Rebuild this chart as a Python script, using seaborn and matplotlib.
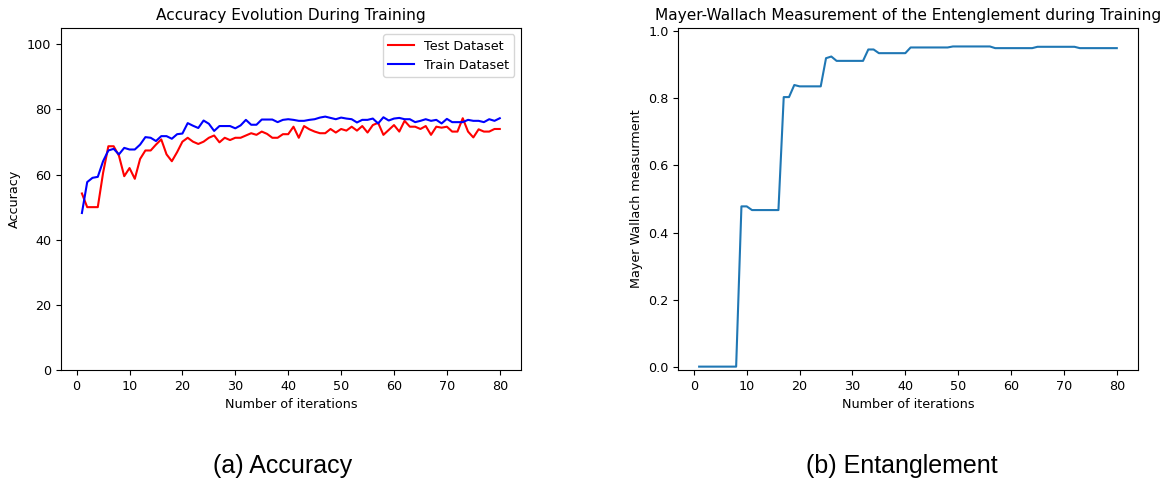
import numpy as np
import pandas as pd
import matplotlib
matplotlib.use('Agg')
import matplotlib.pyplot as plt
import seaborn as sns

# accuracy values, one per iteration (1..80)
iterations = list(range(1, 81))

test_acc = [
    54.2, 50.0, 50.0, 50.0, 60.5, 68.7, 68.7, 65.8, 59.5, 62.0,
    58.7, 64.8, 67.4, 67.4, 69.2, 70.8, 66.2, 64.1, 66.9, 70.1,
    71.3, 70.1, 69.4, 70.1, 71.3, 72.0, 69.9, 71.3, 70.6, 71.3,
    71.3, 72.0, 72.7, 72.2, 73.2, 72.5, 71.3, 71.3, 72.4, 72.4,
    74.7, 71.3, 74.9, 73.9, 73.2, 72.7, 72.7, 74.0, 72.9, 74.0,
    73.5, 74.7, 73.5, 74.9, 72.9, 75.2, 75.9, 72.2, 73.7, 75.2,
    73.2, 76.5, 74.7, 74.7, 74.0, 74.9, 72.2, 74.7, 74.4, 74.7,
    73.2, 73.2, 77.3, 73.2, 71.4, 73.9, 73.2, 73.2, 74.0, 74.0,
]

train_acc = [
    48.2, 57.7, 59.0, 59.3, 64.1, 67.4, 67.9, 66.2, 68.2, 67.7,
    67.7, 69.2, 71.5, 71.3, 70.3, 71.8, 71.8, 71.0, 72.4, 72.6,
    75.8, 75.0, 74.3, 76.6, 75.6, 73.4, 74.9, 74.9, 74.9, 74.2,
    75.1, 76.8, 75.3, 75.3, 76.9, 76.9, 76.9, 76.1, 76.8, 77.0,
    76.8, 76.5, 76.5, 76.8, 77.0, 77.5, 77.8, 77.4, 77.0, 77.5,
    77.2, 77.0, 76.0, 76.8, 76.8, 77.2, 75.7, 77.6, 76.6, 77.2,
    77.4, 77.0, 77.0, 76.1, 76.5, 77.0, 76.5, 76.8, 75.7, 77.1,
    76.1, 76.1, 76.1, 76.8, 76.5, 76.5, 76.1, 77.0, 76.5, 77.3,
]

# Mayer-Wallach entanglement measure per iteration
mw_measure = [
    0.000, 0.000, 0.000, 0.000, 0.000, 0.000, 0.000, 0.000, 0.478, 0.478,
    0.467, 0.467, 0.467, 0.467, 0.467, 0.467, 0.804, 0.804, 0.840, 0.836,
    0.836, 0.836, 0.836, 0.836, 0.920, 0.925, 0.912, 0.912, 0.912, 0.912,
    0.912, 0.912, 0.946, 0.946, 0.935, 0.935, 0.935, 0.935, 0.935, 0.935,
    0.952, 0.952, 0.952, 0.952, 0.952, 0.952, 0.952, 0.952, 0.955, 0.955,
    0.955, 0.955, 0.955, 0.955, 0.955, 0.955, 0.950, 0.950, 0.950, 0.950,
    0.950, 0.950, 0.950, 0.950, 0.954, 0.954, 0.954, 0.954, 0.954, 0.954,
    0.954, 0.954, 0.950, 0.950, 0.950, 0.950, 0.950, 0.950, 0.950, 0.950,
]

captions = ['(a) Accuracy', '(b) Entanglement']

plt.rcParams['font.size'] = 9.2

fig = plt.figure(figsize=(11.69, 4.79), dpi=100)
ax1 = fig.add_axes([0.0522, 0.2276, 0.3932, 0.7139])
ax2 = fig.add_axes([0.5802, 0.2276, 0.3930, 0.7139])

# left: accuracy curves
sns.lineplot(x=iterations, y=test_acc, color='red', label='Test Dataset', ax=ax1)
sns.lineplot(x=iterations, y=train_acc, color='blue', label='Train Dataset', ax=ax1)
ax1.set_ylim(0, 105)
ax1.set_title('Accuracy Evolution During Training')
ax1.set_xlabel('Number of iterations')
ax1.set_ylabel('Accuracy')
ax1.legend(loc='upper right')

# right: entanglement
sns.lineplot(x=iterations, y=mw_measure, color='#1f77b4', ax=ax2)
ax2.set_ylim(-0.01, 1.01)
ax2.set_title('Mayer-Wallach Measurement of the Entenglement during Training')
ax2.set_xlabel('Number of iterations')
ax2.set_ylabel('Mayer Wallach measurment')

# subfigure captions (narrower sans than the plot text)
cap_font = ['Liberation Sans', 'DejaVu Sans']
fig.text(0.2417, 0.012, captions[0], ha='center', va='baseline',
         fontsize=18, family=cap_font)
fig.text(0.7713, 0.012, captions[1], ha='center', va='baseline',
         fontsize=18, family=cap_font)

fig.savefig('out.png', dpi=100)
